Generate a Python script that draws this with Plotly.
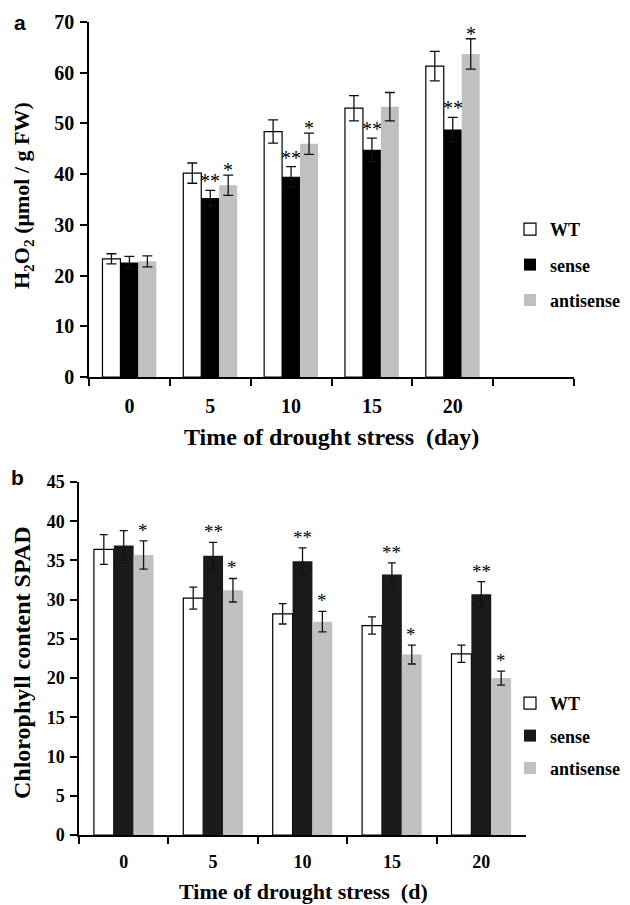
import plotly.graph_objects as go

# ---------------- data ----------------
days = ["0", "5", "10", "15", "20"]

h2o2_wt = [23.3, 40.2, 48.4, 53.0, 61.3]
h2o2_wt_err = [1.0, 2.0, 2.3, 2.5, 2.9]
h2o2_sense = [22.6, 35.3, 39.5, 44.8, 48.8]
h2o2_sense_err = [1.2, 1.5, 2.0, 2.3, 2.4]
h2o2_anti = [22.8, 37.8, 46.0, 53.3, 63.7]
h2o2_anti_err = [1.1, 2.0, 2.1, 2.8, 3.0]
h2o2_sense_sig = ["", "**", "**", "**", "**"]
h2o2_anti_sig = ["", "*", "*", "", "*"]

spad_wt = [36.4, 30.2, 28.2, 26.7, 23.1]
spad_wt_err = [1.9, 1.4, 1.3, 1.1, 1.1]
spad_sense = [36.9, 35.6, 34.9, 33.2, 30.7]
spad_sense_err = [1.9, 1.7, 1.7, 1.5, 1.6]
spad_anti = [35.7, 31.2, 27.2, 23.0, 20.0]
spad_anti_err = [1.8, 1.5, 1.3, 1.2, 0.9]
spad_sense_sig = ["", "**", "**", "**", "**"]
spad_anti_sig = ["*", "*", "*", "*", "*"]

series_names = ["WT", "sense", "antisense"]

# ---------------- styles ----------------
W, H = 630, 905
OFF = 8  # page body margin
SERIF = "Liberation Serif"
FILL = {"WT": "white", "sense": "black", "antisense": "#c0c0c0"}
FILL_B = {"WT": "white", "sense": "#1a1a1a", "antisense": "#c0c0c0"}


def px_x(p):
    return (p - OFF) / W


def px_y(p):
    return (H - (p - OFF)) / H


fig = go.Figure()

panel_a = [(h2o2_wt, h2o2_wt_err), (h2o2_sense, h2o2_sense_err), (h2o2_anti, h2o2_anti_err)]
panel_b = [(spad_wt, spad_wt_err), (spad_sense, spad_sense_err), (spad_anti, spad_anti_err)]

for name, (vals, errs) in zip(series_names, panel_a):
    fig.add_trace(go.Bar(
        x=days, y=vals, name=name, xaxis="x", yaxis="y", legend="legend",
        legendgroup="a" + name,
        marker=dict(color=FILL[name],
                    line=dict(color="black", width=1.2 if name == "WT" else 0)),
        error_y=dict(type="data", array=errs, color="#111111", thickness=1.3, width=5),
    ))

for name, (vals, errs) in zip(series_names, panel_b):
    fig.add_trace(go.Bar(
        x=days, y=vals, name=name, xaxis="x2", yaxis="y2", legend="legend2",
        legendgroup="b" + name,
        marker=dict(color=FILL_B[name],
                    line=dict(color="black", width=1.2 if name == "WT" else 0)),
        error_y=dict(type="data", array=errs, color="#111111", thickness=1.3, width=4),
    ))

annotations = []
gap_a = 1 / 3
gap_b = 0.35
wa = (1 - gap_a) / 3
wb = (1 - gap_b) / 3


def add_stars(vals, errs, sigs, offset, xref, yref, shift, size):
    for i, (v, e, s) in enumerate(zip(vals, errs, sigs)):
        if s:
            annotations.append(dict(
                x=i + offset, y=v + e, xref=xref, yref=yref, text=s,
                showarrow=False, yanchor="bottom", yshift=shift,
                font=dict(family=SERIF, size=size, color="black"),
            ))


add_stars(h2o2_sense, h2o2_sense_err, h2o2_sense_sig, 0, "x", "y", -4, 20)
add_stars(h2o2_anti, h2o2_anti_err, h2o2_anti_sig, wa, "x", "y", -8, 20)
add_stars(spad_sense, spad_sense_err, spad_sense_sig, 0, "x2", "y2", -2, 19)
add_stars(spad_anti, spad_anti_err, spad_anti_sig, wb, "x2", "y2", -2, 19)

# panel letters
annotations.append(dict(x=px_x(20), y=px_y(22), xref="paper", yref="paper", text="<b>a</b>",
                        xanchor="center", yanchor="middle",
                        showarrow=False, font=dict(family="Liberation Sans", size=21, color="black")))
annotations.append(dict(x=px_x(17), y=px_y(477), xref="paper", yref="paper", text="<b>b</b>",
                        xanchor="center", yanchor="middle",
                        showarrow=False, font=dict(family="Liberation Sans", size=21, color="black")))

# axis titles
annotations.append(dict(x=px_x(331), y=px_y(437), xref="paper", yref="paper",
                        xanchor="center", yanchor="middle",
                        text="Time of drought stress  (day)", showarrow=False,
                        font=dict(family=SERIF, size=24, color="black", weight="bold")))
annotations.append(dict(x=px_x(303), y=px_y(891), xref="paper", yref="paper",
                        xanchor="center", yanchor="middle",
                        text="Time of drought stress  (d)", showarrow=False,
                        font=dict(family=SERIF, size=22, color="black", weight="bold")))
annotations.append(dict(x=px_x(23), y=px_y(196), xref="paper", yref="paper",
                        xanchor="center", yanchor="middle",
                        text="H<sub>2</sub>O<sub>2</sub> (μmol / g FW)", showarrow=False, textangle=-90,
                        font=dict(family=SERIF, size=22, color="black", weight="bold")))
annotations.append(dict(x=px_x(22), y=px_y(663), xref="paper", yref="paper",
                        xanchor="center", yanchor="middle",
                        text="Chlorophyll content SPAD", showarrow=False, textangle=-90,
                        font=dict(family=SERIF, size=24, color="black", weight="bold")))

axis_common = dict(showline=True, linecolor="black", linewidth=1.5, showgrid=False,
                   zeroline=False, ticks="outside", tickcolor="black", tickwidth=1.5,
                   ticklen=7, automargin=False)

fig.update_layout(
    width=W, height=H, margin=dict(l=0, r=0, t=0, b=0, autoexpand=False),
    paper_bgcolor="white", plot_bgcolor="white",
    barmode="group", bargap=gap_a, bargroupgap=0,
    xaxis=dict(domain=[px_x(89), px_x(574)], anchor="y", type="category",
               categoryorder="array", categoryarray=days + [" "], range=[-0.5, 5.5],
               tickson="boundaries", ticklabelstandoff=10,
               tickfont=dict(family=SERIF, size=20, color="black", weight="bold"),
               **axis_common),
    yaxis=dict(domain=[px_y(377), px_y(22)], anchor="x", range=[0, 70], dtick=10,
               ticklabelstandoff=2,
               tickfont=dict(family=SERIF, size=20, color="black", weight="bold"),
               **axis_common),
    xaxis2=dict(domain=[px_x(79), px_x(526)], anchor="y2", type="category",
                categoryorder="array", categoryarray=days, range=[-0.5, 4.5],
                tickson="boundaries", ticklabelstandoff=10,
                tickfont=dict(family=SERIF, size=18, color="black", weight="bold"),
                **axis_common),
    yaxis2=dict(domain=[px_y(835), px_y(482)], anchor="x2", range=[0, 45], dtick=5,
                ticklabelstandoff=2,
                tickfont=dict(family=SERIF, size=18, color="black", weight="bold"),
                **axis_common),
    legend=dict(x=px_x(510), y=px_y(211), xanchor="left", yanchor="top",
                bgcolor="rgba(0,0,0,0)", tracegroupgap=9,
                font=dict(family=SERIF, size=18, color="black", weight="bold")),
    legend2=dict(x=px_x(510), y=px_y(685), xanchor="left", yanchor="top",
                 bgcolor="rgba(0,0,0,0)", tracegroupgap=6,
                 font=dict(family=SERIF, size=18, color="black", weight="bold")),
    annotations=annotations,
    showlegend=True,
)

fig.write_html("out.html")
